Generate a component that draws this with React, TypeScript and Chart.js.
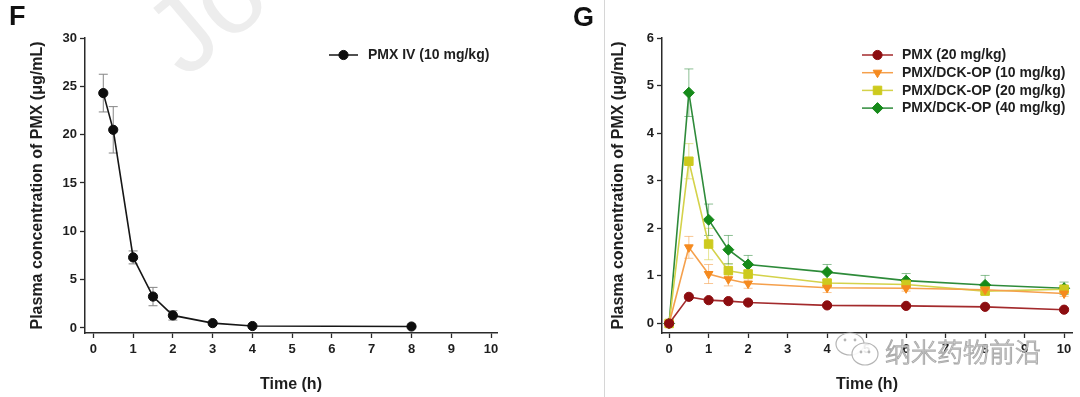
import React, { useEffect, useRef } from 'react';
import { Chart, registerables } from 'chart.js';
import { drawPoint } from 'chart.js/helpers';

Chart.register(...registerables);

// ---------- Data ----------
const fTime = [0.25, 0.5, 1, 1.5, 2, 3, 4, 8];
const fConc = [24.3, 20.5, 7.3, 3.25, 1.3, 0.5, 0.2, 0.15];
const fErr = [1.95, 2.4, 0.67, 0.95, 0.48, 0.12, 0.08, 0.08];
const fLabel = 'PMX IV (10 mg/kg)';
const fXTicks = [0, 1, 2, 3, 4, 5, 6, 7, 8, 9, 10];
const fYTicks = [0, 5, 10, 15, 20, 25, 30];

const gTime = [0, 0.5, 1, 1.5, 2, 4, 6, 8, 10];
const gPmx20 = [0, 0.56, 0.49, 0.47, 0.44, 0.38, 0.37, 0.35, 0.29];
const gPmx20Err = [0, 0.04, 0.03, 0.03, 0.03, 0.03, 0.03, 0.03, 0.03];
const gDck10 = [0, 1.6, 1.04, 0.93, 0.84, 0.75, 0.74, 0.71, 0.63];
const gDck10Err = [0, 0.23, 0.2, 0.14, 0.1, 0.1, 0.06, 0.06, 0.06];
const gDck20 = [0, 3.41, 1.67, 1.11, 1.04, 0.85, 0.82, 0.68, 0.72];
const gDck20Err = [0, 0.37, 0.33, 0.15, 0.08, 0.06, 0.06, 0.06, 0.06];
const gDck40 = [0, 4.85, 2.18, 1.55, 1.24, 1.08, 0.9, 0.81, 0.74];
const gDck40Err = [0, 0.5, 0.33, 0.3, 0.19, 0.16, 0.15, 0.2, 0.13];
const gLabels = ['PMX (20 mg/kg)', 'PMX/DCK-OP (10 mg/kg)', 'PMX/DCK-OP (20 mg/kg)', 'PMX/DCK-OP (40 mg/kg)'];
const gXTicks = [0, 1, 2, 3, 4, 5, 6, 7, 8, 9, 10];
const gYTicks = [0, 1, 2, 3, 4, 5, 6];

const yTitle = 'Plasma concentration of PMX (\u03bcg/mL)';
const xTitle = 'Time (h)';
const watermark = '纳米药物前沿';

const FONT = "'Liberation Sans', Arial, Helvetica, sans-serif";
const TXT = '#1e1e1e';
const AX = '#2a2a2a';

const toPts = (xs: number[], ys: number[]) => xs.map((x, i) => ({ x, y: ys[i] }));

const errorBarPlugin = {
  id: 'errorBars',
  beforeDatasetsDraw(chart: any) {
    const ctx = chart.ctx;
    const xs = chart.scales.x;
    const ys = chart.scales.y;
    const cap = 4.5;
    chart.data.datasets.forEach((ds: any) => {
      if (!ds.errors) return;
      ctx.save();
      ctx.strokeStyle = ds.errorColor;
      ctx.lineWidth = 1;
      ds.data.forEach((p: any, i: number) => {
        const e = ds.errors[i];
        if (!e) return;
        const x = xs.getPixelForValue(p.x);
        const yt = ys.getPixelForValue(p.y + e);
        const yb = ys.getPixelForValue(p.y - e);
        ctx.beginPath();
        ctx.moveTo(x, yt);
        ctx.lineTo(x, yb);
        ctx.moveTo(x - cap, yt);
        ctx.lineTo(x + cap, yt);
        ctx.moveTo(x - cap, yb);
        ctx.lineTo(x + cap, yb);
        ctx.stroke();
      });
      ctx.restore();
    });
  },
};

const legendPlugin = {
  id: 'lineLegend',
  afterDraw(chart: any, _args: any, opts: any) {
    const ctx = chart.ctx;
    ctx.save();
    chart.data.datasets.forEach((ds: any, i: number) => {
      const y = opts.y + i * opts.rowH;
      ctx.strokeStyle = ds.borderColor;
      ctx.lineWidth = 1.5;
      ctx.beginPath();
      ctx.moveTo(opts.x, y);
      ctx.lineTo(opts.x + opts.lineLen, y);
      ctx.stroke();
      ctx.fillStyle = ds.pointBackgroundColor;
      ctx.strokeStyle = ds.pointBorderColor;
      ctx.lineWidth = 1;
      drawPoint(ctx, { pointStyle: ds.pointStyle, rotation: ds.pointRotation || 0, radius: ds.pointRadius, borderWidth: 1 }, opts.x + opts.lineLen / 2, y);
      ctx.fillStyle = TXT;
      ctx.font = `bold ${opts.size}px ${FONT}`;
      ctx.textBaseline = 'middle';
      ctx.textAlign = 'left';
      ctx.fillText(ds.label, opts.textX, y + 0.5);
    });
    ctx.restore();
  },
};

function makeOptions(p: any) {
  const tickFont = { family: FONT, size: 13, weight: 'bold' as const };
  const titleFont = { family: FONT, size: 16, weight: 'bold' as const };
  return {
    responsive: false,
    animation: false,
    layout: { padding: p.padding },
    plugins: {
      legend: { display: false },
      tooltip: { enabled: false },
      lineLegend: p.legend,
    },
    scales: {
      x: {
        type: 'linear',
        min: p.xMin,
        max: p.xMax,
        afterBuildTicks: (s: any) => { s.ticks = p.xTicks.map((v: number) => ({ value: v })); },
        afterFit: (s: any) => { s.height = p.xHeight; },
        ticks: { font: tickFont, color: TXT, padding: 4, maxRotation: 0, autoSkip: false },
        grid: { drawOnChartArea: false, drawTicks: true, tickLength: 5, tickColor: AX, tickWidth: 1.3, color: AX },
        border: { display: true, color: AX, width: 1.5 },
        title: { display: true, text: xTitle, font: titleFont, color: TXT, padding: 0 },
      },
      y: {
        type: 'linear',
        min: p.yMin,
        max: p.yMax,
        afterBuildTicks: (s: any) => { s.ticks = p.yTicks.map((v: number) => ({ value: v })); },
        afterFit: (s: any) => { s.width = p.yWidth; },
        ticks: { font: tickFont, color: TXT, padding: 3, autoSkip: false },
        grid: { drawOnChartArea: false, drawTicks: true, tickLength: 5, tickColor: AX, tickWidth: 1.3, color: AX },
        border: { display: true, color: AX, width: 1.5 },
        title: { display: true, text: yTitle, font: titleFont, color: TXT, padding: 0 },
      },
    },
  };
}

function series(label: string, xs: number[], ys: number[], errs: number[], color: string, lineColor: string, errColor: string, style: string, radius: number, rotation = 0) {
  return {
    label,
    data: toPts(xs, ys),
    errors: errs,
    errorColor: errColor,
    borderColor: lineColor,
    borderWidth: 1.6,
    pointBackgroundColor: color,
    pointBorderColor: color,
    pointBorderWidth: 1,
    pointStyle: style,
    pointRotation: rotation,
    pointRadius: radius,
    tension: 0,
    fill: false,
    clip: false,
  };
}

const fDecor = {
  id: 'fDecor',
  beforeDraw(chart: any) {
    const ctx = chart.ctx;
    ctx.save();
    ctx.translate(185, 80);
    ctx.rotate((-40 * Math.PI) / 180);
    ctx.fillStyle = '#ededed';
    ctx.font = `110px ${FONT}`;
    ctx.textBaseline = 'alphabetic';
    ctx.fillText('Jo', 0, 0);
    ctx.restore();
  },
  afterDraw(chart: any) {
    const ctx = chart.ctx;
    ctx.save();
    ctx.fillStyle = '#111';
    ctx.font = `bold 27px ${FONT}`;
    ctx.textBaseline = 'alphabetic';
    ctx.fillText('F', 9, 25);
    ctx.restore();
  },
};

const gDecor = {
  id: 'gDecor',
  beforeDraw(chart: any) {
    const ctx = chart.ctx;
    ctx.save();
    ctx.strokeStyle = '#d6d6d6';
    ctx.lineWidth = 1;
    ctx.beginPath();
    ctx.moveTo(44.5, 0);
    ctx.lineTo(44.5, 397);
    ctx.stroke();
    ctx.fillStyle = '#111';
    ctx.font = `bold 27px ${FONT}`;
    ctx.textBaseline = 'alphabetic';
    ctx.fillText('G', 13, 26);
    ctx.restore();
  },
  afterDraw(chart: any) {
    const ctx = chart.ctx;
    ctx.save();
    // WeChat-like icon
    ctx.strokeStyle = '#b5b5b5';
    ctx.lineWidth = 1.2;
    ctx.fillStyle = 'rgba(255,255,255,0.9)';
    ctx.beginPath();
    ctx.ellipse(290, 344, 14, 11, 0, 0, Math.PI * 2);
    ctx.fill();
    ctx.stroke();
    ctx.beginPath();
    ctx.ellipse(305, 354, 13, 11, 0, 0, Math.PI * 2);
    ctx.fill();
    ctx.stroke();
    ctx.fillStyle = '#b5b5b5';
    [[285, 340], [295, 340], [301, 352], [309, 352]].forEach(([x, y]) => {
      ctx.beginPath();
      ctx.arc(x, y, 1.4, 0, Math.PI * 2);
      ctx.fill();
    });
    // text
    ctx.font = `300 26px 'Noto Sans CJK SC', sans-serif`;
    ctx.textBaseline = 'middle';
    ctx.textAlign = 'left';
    ctx.fillStyle = 'rgba(255,255,255,0.85)';
    ctx.fillText(watermark, 325, 352);
    ctx.strokeStyle = '#ababab';
    ctx.lineWidth = 1;
    ctx.strokeText(watermark, 325, 352);
    ctx.restore();
  },
};

export default function App() {
  const fRef = useRef<HTMLCanvasElement>(null);
  const gRef = useRef<HTMLCanvasElement>(null);

  useEffect(() => {
    const fChart = new Chart(fRef.current as HTMLCanvasElement, {
      type: 'line',
      data: {
        datasets: [series(fLabel, fTime, fConc, fErr, '#0d0d0d', '#161616', '#858585', 'circle', 4.6) as any],
      },
      options: makeOptions({
        padding: { left: 28, right: 63, top: 38, bottom: 2.4 },
        xMin: -0.21, xMax: 10.15, yMin: -0.52, yMax: 30,
        xTicks: fXTicks, yTicks: fYTicks,
        xHeight: 61.6, yWidth: 57,
        legend: { x: 329, y: 55, lineLen: 29, rowH: 18, textX: 368, size: 14 },
      }) as any,
      plugins: [errorBarPlugin, legendPlugin, fDecor],
    });

    const gChart = new Chart(gRef.current as HTMLCanvasElement, {
      type: 'line',
      data: {
        datasets: [
          series(gLabels[0], gTime, gPmx20, gPmx20Err, '#8c0d10', '#a32a2c', 'rgba(163,42,44,0.5)', 'circle', 4.6),
          series(gLabels[1], gTime, gDck10, gDck10Err, '#f58a1f', '#f5a04c', 'rgba(245,160,76,0.6)', 'triangle', 5, 180),
          series(gLabels[2], gTime, gDck20, gDck20Err, '#cdca1e', '#d4d24a', 'rgba(212,210,74,0.6)', 'rect', 6),
          series(gLabels[3], gTime, gDck40, gDck40Err, '#168a1a', '#2e8b3a', 'rgba(46,139,58,0.55)', 'rectRot', 5.5),
        ] as any,
      },
      options: makeOptions({
        padding: { left: 49.4, right: 8, top: 38, bottom: 2.4 },
        xMin: -0.18, xMax: 10.2, yMin: -0.2, yMax: 6,
        xTicks: gXTicks, yTicks: gYTicks,
        xHeight: 61.6, yWidth: 52.6,
        legend: { x: 302, y: 55, lineLen: 31, rowH: 17.7, textX: 342, size: 14 },
      }) as any,
      plugins: [errorBarPlugin, legendPlugin, gDecor],
    });

    return () => {
      fChart.destroy();
      gChart.destroy();
    };
  }, []);

  return (
    <div style={{ position: 'absolute', left: 0, top: 0, width: 1080, height: 397, background: '#fff', overflow: 'hidden' }}>
      <canvas ref={fRef} width={560} height={397} style={{ position: 'absolute', left: 0, top: 0, width: 560, height: 397 }} />
      <canvas ref={gRef} width={520} height={397} style={{ position: 'absolute', left: 560, top: 0, width: 520, height: 397 }} />
    </div>
  );
}
